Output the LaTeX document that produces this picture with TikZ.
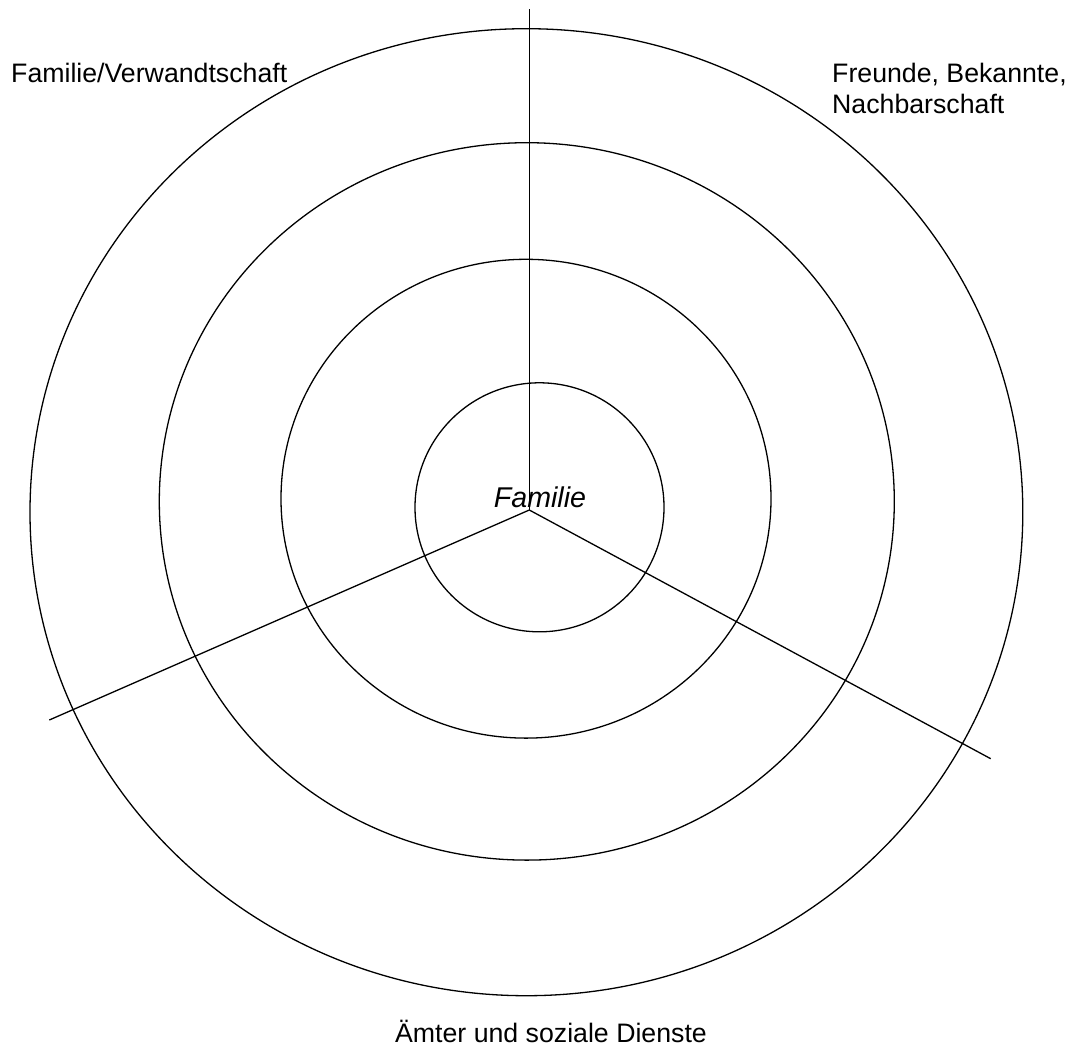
\documentclass[tikz,border=0pt]{standalone}
\usepackage{fontspec}
\setmainfont{Liberation Sans}
\begin{document}
\begin{tikzpicture}[x=1pt,y=-1pt,
  ring/.style={draw=black,line width=1.3pt},
  spoke/.style={draw=black,line width=1.3pt},
  lbl/.style={inner sep=0pt,font=\fontsize{26.7}{31}\selectfont,align=left},
  centerlbl/.style={inner sep=0pt,font=\fontsize{28.6}{33}\selectfont\itshape}]
\useasboundingbox (0,0) rectangle (1068,1047);
% rings
\draw[ring] (526.4,512.2) ellipse [x radius=496.4pt, y radius=483.5pt];
\draw[ring] (526.8,501.4) ellipse [x radius=367.5pt, y radius=358.7pt];
\draw[ring] (526.0,498.7) ellipse [x radius=245pt, y radius=239.4pt];
\draw[ring] (539.5,507.3) ellipse [x radius=124.5pt, y radius=124.5pt];
% spokes
\coordinate (hub) at (529.3,510);
\coordinate (top) at (529.3,9);
\coordinate (left) at (49.3,720);
\coordinate (right) at (990.7,758.7);
\draw[spoke] (hub) -- (top);
\draw[spoke] (hub) -- (left);
\draw[spoke] (hub) -- (right);
% labels
\node[centerlbl,anchor=base] (fam) at (540,507.3) {Familie};
\node[lbl,anchor=base west] (verw) at (11,82) {Familie/Verwandtschaft};
\node[lbl,anchor=base west] (freunde) at (832,113) {Freunde, Bekannte,\\Nachbarschaft};
\node[lbl,anchor=base] (aemter) at (551,1042) {Ämter und soziale Dienste};
\end{tikzpicture}
\end{document}
